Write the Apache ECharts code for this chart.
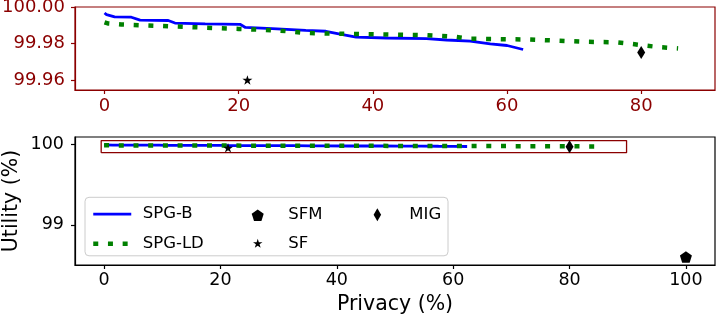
<!DOCTYPE html>
<html><head><meta charset="utf-8">
<script src="https://cdn.jsdelivr.net/npm/echarts@6/dist/echarts.min.js"></script>
<style>html,body{margin:0;padding:0;background:#fff}#c{width:717px;height:319px}</style>
</head><body><div id="c"></div>
<script>
// ---- data ----
const spgB_x = [0, 0.3, 1.5, 4, 5.3, 9.5, 10.5, 15, 20.2, 21, 25, 30, 33, 35.5, 37.5, 42, 48, 51, 54.5, 57.5, 60, 62.4];
const spgB_y = [99.9967, 99.9958, 99.9946, 99.9944, 99.9928, 99.9926, 99.9912, 99.9908, 99.9905, 99.9888, 99.9882, 99.9872, 99.9867, 99.9849, 99.9835, 99.9830, 99.9827, 99.9819, 99.9813, 99.9798, 99.9789, 99.9767];
const spgLD_x = [0, 0.5, 2.5, 10, 20, 26, 30, 35, 40, 48, 52, 54.5, 63, 72, 76, 78.5, 80.5, 82.7, 85.5];
const spgLD_y = [99.9916, 99.9910, 99.9904, 99.9894, 99.9880, 99.9871, 99.9858, 99.9853, 99.9851, 99.9845, 99.9838, 99.9826, 99.9822, 99.9809, 99.9807, 99.9798, 99.9789, 99.9780, 99.9773];
const sfm = [100, 98.6];
const sf = [21.3, 99.96];
const mig = [80, 99.975];
const zoomBox_x = [-0.5, 89.8, 89.8, -0.5, -0.5];
const zoomBox_y = [99.9, 99.9, 100.05, 100.05, 99.9];
const topXTicks = [0, 20, 40, 60, 80];
const topYTicks = [99.96, 99.98, 100.00];
const botXTicks = [0, 20, 40, 60, 80, 100];
const botYTicks = [99, 100];
const xTitle = 'Privacy (%)';
const yTitle = 'Utility (%)';

// ---- styling ----
const FF = 'DejaVu Sans';
const RED = '#8b0000';
const BLUE = '#0000ff';
const GREEN = '#008000';
const pentagon = 'path://M0,-1L0.951,-0.309L0.588,0.809L-0.588,0.809L-0.951,-0.309Z';
const star = 'path://M0,-1L0.2245,-0.309L0.951,-0.309L0.3633,0.118L0.588,0.809L0,0.382L-0.588,0.809L-0.3633,0.118L-0.951,-0.309L-0.2245,-0.309Z';

const zip = (xs, ys) => xs.map((x, i) => [x, ys[i]]);

function valAxis(o) {
  return {
    type: 'value', gridIndex: o.grid, min: o.min, max: o.max,
    splitLine: {show: false},
    axisLine: {show: true, onZero: false, lineStyle: {color: o.color, width: 1.2}},
    axisTick: {show: true, length: 4, customValues: o.ticks, lineStyle: {color: o.color, width: 1.2}},
    axisLabel: {customValues: o.ticks, color: o.color, fontFamily: FF, fontSize: o.fs, margin: o.margin,
      formatter: o.fmt},
    name: o.name || '', nameLocation: 'middle', nameGap: o.nameGap || 0, nameMoveOverlap: false,
    nameTextStyle: {fontFamily: FF, fontSize: 20.5, color: '#000'}
  };
}

const chart = echarts.init(document.getElementById('c'), null, {renderer: 'canvas'});

function lineSeries(name, xs, ys, g, color, width, type) {
  return {
    name, type: 'line', xAxisIndex: g, yAxisIndex: g, data: zip(xs, ys),
    showSymbol: false, symbol: 'none', animation: false, z: 3,
    lineStyle: {color, width, type, cap: 'butt'}, itemStyle: {color}
  };
}
function scatter(name, pt, g, symbol, size) {
  return {name, type: 'scatter', xAxisIndex: g, yAxisIndex: g, data: [pt], symbol, symbolSize: size,
    itemStyle: {color: '#000', opacity: 1}, z: 5, animation: false};
}

const dotted = [5, 9.7];
const legendText = (pl) => ({fontFamily: FF, fontSize: 16.5, color: '#000', padding: [0, 0, 0, pl]});

const option = {
  animation: false,
  backgroundColor: '#fff',
  grid: [
    {left: 75, top: 7, width: 640, height: 83, show: true, borderColor: RED, borderWidth: 1.2,
      backgroundColor: 'transparent', outerBoundsMode: 'none', containLabel: false},
    {left: 75, top: 137, width: 640, height: 128, show: true, borderColor: '#000', borderWidth: 1.2,
      backgroundColor: 'transparent', outerBoundsMode: 'none', containLabel: false}
  ],
  xAxis: [
    valAxis({grid: 0, min: -4.4, max: 91, color: RED, ticks: topXTicks, fs: 18, margin: 7, fmt: v => String(Math.round(v))}),
    valAxis({grid: 1, min: -5, max: 105, color: '#000', ticks: botXTicks, fs: 17.5, margin: 6, fmt: v => String(Math.round(v)),
      name: xTitle, nameGap: 29})
  ],
  yAxis: [
    valAxis({grid: 0, min: 99.9545, max: 100.0, color: RED, ticks: topYTicks, fs: 18, margin: 10, fmt: v => v.toFixed(2)}),
    valAxis({grid: 1, min: 98.5, max: 100.095, color: '#000', ticks: botYTicks, fs: 17.5, margin: 11, fmt: v => String(Math.round(v))})
  ],
  legend: [
    {data: ['SPG-B', 'SPG-LD'], orient: 'vertical', left: 91, top: 205.7, padding: 0, itemWidth: 38, itemHeight: 14, itemGap: 12.6,
      itemStyle: {opacity: 0, borderWidth: 0}, lineStyle: {width: 'inherit', type: 'inherit', cap: 'butt'},
      textStyle: legendText(6.5), selectedMode: false},
    {data: ['SFM'], left: 251.7, top: 206.7, padding: 0, itemWidth: 12, itemHeight: 12,
      itemStyle: {opacity: 1}, textStyle: legendText(19.6), selectedMode: false},
    {data: ['SF'], left: 253, top: 234.8, padding: 0, itemWidth: 9.5, itemHeight: 9,
      itemStyle: {opacity: 1}, textStyle: legendText(20.8), selectedMode: false},
    {data: ['MIG'], left: 373.6, top: 206.2, padding: 0, itemWidth: 7.5, itemHeight: 13,
      itemStyle: {opacity: 1}, textStyle: legendText(23.2), selectedMode: false}
  ],
  graphic: [
    {type: 'rect', z: 3, shape: {x: 85, y: 197.3, width: 363, height: 58.5, r: 4},
      style: {fill: 'rgba(255,255,255,0.8)', stroke: '#cccccc', lineWidth: 1}},
    {type: 'text', z: 5, x: 11.5, y: 201, rotation: Math.PI / 2,
      style: {text: yTitle, font: '20.5px "DejaVu Sans"', fill: '#000', align: 'center', verticalAlign: 'middle'}}
  ],
  series: [
    lineSeries('SPG-B', spgB_x, spgB_y, 0, BLUE, 2.8, 'solid'),
    lineSeries('SPG-LD', spgLD_x, spgLD_y, 0, GREEN, 4.5, dotted),
    scatter('SF', sf, 0, star, [10, 9.5]),
    scatter('MIG', mig, 0, 'diamond', [8, 13]),
    {type: 'line', xAxisIndex: 1, yAxisIndex: 1, data: zip(zoomBox_x, zoomBox_y), showSymbol: false, symbol: 'none',
      lineStyle: {color: RED, width: 1.3}, z: 2, animation: false, silent: true},
    lineSeries('SPG-B', spgB_x, spgB_y, 1, BLUE, 2.8, 'solid'),
    lineSeries('SPG-LD', spgLD_x, spgLD_y, 1, GREEN, 4.5, dotted),
    scatter('SFM', sfm, 1, pentagon, [12, 11.5]),
    scatter('SF', sf, 1, star, [10, 9.5]),
    scatter('MIG', mig, 1, 'diamond', [8, 13])
  ]
};
chart.setOption(option);
</script>
</body></html>
